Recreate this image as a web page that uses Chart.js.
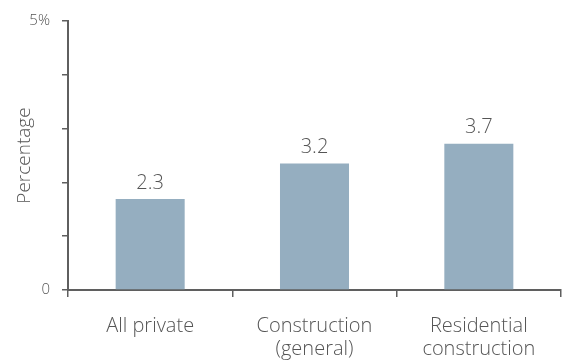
<!DOCTYPE html>
<html>
<head>
<meta charset="utf-8">
<script src="https://cdn.jsdelivr.net/npm/chart.js@4/dist/chart.umd.min.js"></script>
<style>
  body { margin: 0; background: #fff; }
  #wrap { width: 563px; height: 362px; }
</style>
</head>
<body>
<div id="wrap"><canvas id="chart" width="563" height="362"></canvas></div>
<script>
// Data
const categories = [["All private"], ["Construction", "(general)"], ["Residential", "construction"]];
const values = [2.3, 3.2, 3.7];
const yTickLabels = ["0", "", "", "", "", "5%"];
const yMax = 6.8; // top of the axis in the source sits well above the tallest bar

const textColor = "#555555";
const axisColor = "#5f5f5f";
const fontFamily = "'Open Sans', sans-serif";

// Helper: value labels above bars
const valueLabels = {
  id: "valueLabels",
  afterDatasetsDraw(chart) {
    const ctx = chart.ctx;
    const meta = chart.getDatasetMeta(0);
    ctx.save();
    ctx.font = "300 20px " + fontFamily;
    ctx.fillStyle = textColor;
    ctx.textAlign = "center";
    ctx.textBaseline = "bottom";
    meta.data.forEach((bar, i) => {
      ctx.fillText(values[i].toFixed(1), bar.x, bar.y - 6);
    });
    ctx.restore();
  }
};

new Chart(document.getElementById("chart").getContext("2d"), {
  type: "bar",
  data: {
    labels: categories,
    datasets: [{
      data: values,
      backgroundColor: "#95aec0",
      barPercentage: 0.42,
      categoryPercentage: 1
    }]
  },
  plugins: [valueLabels],
  options: {
    responsive: false,
    animation: false,
    layout: { padding: { top: 21, right: 2, left: 0, bottom: 0 } },
    plugins: { legend: { display: false }, tooltip: { enabled: false } },
    scales: {
      x: {
        offset: true,
        grid: { offset: true, drawOnChartArea: false, drawTicks: true, tickLength: 7, color: axisColor, lineWidth: 1.5 },
        border: { color: axisColor, width: 2 },
        ticks: { color: textColor, font: { family: fontFamily, size: 20, weight: 300, lineHeight: 1.15 }, padding: 18, maxRotation: 0 },
        afterFit(scale) { scale.height = 72; }
      },
      y: {
        min: 0,
        max: yMax,
        afterBuildTicks(scale) {
          scale.ticks = yTickLabels.map((_, i) => ({ value: i * yMax / (yTickLabels.length - 1) }));
        },
        grid: { drawOnChartArea: false, drawTicks: true, tickLength: 6, color: axisColor, lineWidth: 1.5 },
        border: { color: axisColor, width: 2 },
        ticks: {
          color: textColor,
          font: { family: fontFamily, size: 15, weight: 300 },
          padding: 12,
          callback: (v, i) => yTickLabels[i]
        },
        title: {
          display: true,
          text: "Percentage",
          color: textColor,
          font: { family: fontFamily, size: 19, weight: 300 },
          padding: { top: 13, bottom: 4 }
        },
        afterFit(scale) { scale.width = 68; }
      }
    }
  }
});
</script>
</body>
</html>
